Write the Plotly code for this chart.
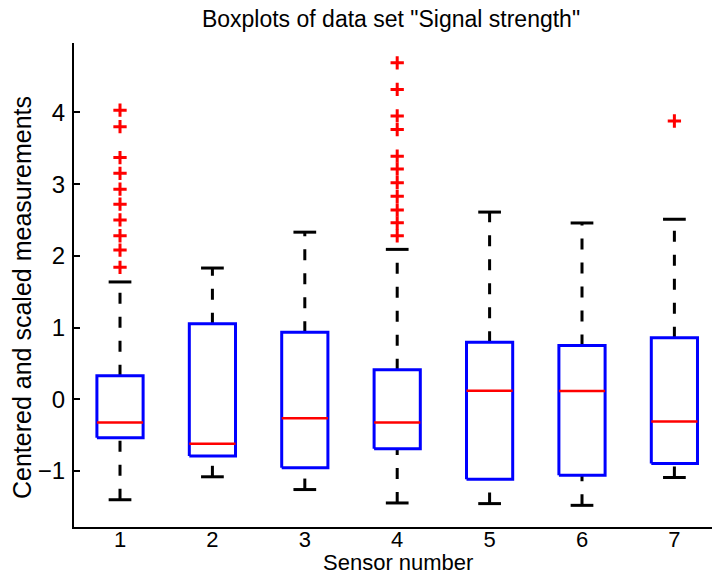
import plotly.graph_objects as go

# ---- data ----
sensors = [1, 2, 3, 4, 5, 6, 7]
tick_labels = ["1", "2", "3", "4", "5", "6", "7"]
y_ticks = [-1, 0, 1, 2, 3, 4]
y_tick_labels = ["\u22121", "0", "1", "2", "3", "4"]
q1 = [-0.535, -0.79, -0.955, -0.689, -1.113, -1.057, -0.894]
median = [-0.325, -0.62, -0.264, -0.325, 0.119, 0.115, -0.31]
q3 = [0.33, 1.053, 0.936, 0.413, 0.796, 0.749, 0.857]
lower_whisker = [-1.40, -1.08, -1.258, -1.445, -1.454, -1.478, -1.09]
upper_whisker = [1.636, 1.83, 2.33, 2.09, 2.61, 2.458, 2.51]
outliers = {
    1: [4.03, 3.80, 3.37, 3.15, 2.93, 2.72, 2.50, 2.28, 2.08, 1.84],
    4: [4.69, 4.32, 3.95, 3.76, 3.39, 3.21, 3.02, 2.83, 2.64, 2.46, 2.28],
    7: [3.88],
}

BOX_HALF = 0.25
CAP_HALF = 0.123
FONT = "Liberation Sans, Arial, Helvetica, sans-serif"

fig = go.Figure()

# whiskers (dashed), drawn from low to high like MATLAB
wx, wy = [], []
for s, lo, a, b, hi in zip(sensors, lower_whisker, q1, q3, upper_whisker):
    wx += [s, s, None, s, s, None]
    wy += [lo, a, None, b, hi, None]
fig.add_trace(go.Scatter(x=wx, y=wy, mode="lines",
                         line=dict(color="black", width=3, dash="11px,13px"),
                         hoverinfo="skip"))

# caps
cx, cy = [], []
for s, lo, hi in zip(sensors, lower_whisker, upper_whisker):
    cx += [s - CAP_HALF, s + CAP_HALF, None, s - CAP_HALF, s + CAP_HALF, None]
    cy += [lo, lo, None, hi, hi, None]
fig.add_trace(go.Scatter(x=cx, y=cy, mode="lines",
                         line=dict(color="black", width=3), hoverinfo="skip"))

# boxes
bx, by = [], []
for s, a, b in zip(sensors, q1, q3):
    bx += [s - BOX_HALF, s + BOX_HALF, s + BOX_HALF, s - BOX_HALF, s - BOX_HALF, None]
    by += [a, a, b, b, a, None]
fig.add_trace(go.Scatter(x=bx, y=by, mode="lines",
                         line=dict(color="#0000ff", width=3), hoverinfo="skip"))

# medians
mx, my = [], []
for s, m in zip(sensors, median):
    mx += [s - BOX_HALF, s + BOX_HALF, None]
    my += [m, m, None]
fig.add_trace(go.Scatter(x=mx, y=my, mode="lines",
                         line=dict(color="#ff0000", width=2.5), hoverinfo="skip"))

# outliers
ox, oy = [], []
for s, vals in outliers.items():
    ox += [s] * len(vals)
    oy += vals
fig.add_trace(go.Scatter(x=ox, y=oy, mode="markers",
                         marker=dict(symbol="cross-thin", size=9.5,
                                     line=dict(color="#ff0000", width=3)),
                         hoverinfo="skip"))

PLOT_W = 712 - 74
PLOT_H = 527 - 43

fig.update_layout(
    width=712, height=576,
    margin=dict(l=74, r=0, t=43, b=49),
    paper_bgcolor="white", plot_bgcolor="white",
    showlegend=False,
    font=dict(family=FONT, size=22, color="black"),
    title=dict(text='Boxplots of data set "Signal strength"',
               x=391 / 712, xanchor="center",
               y=1 - 19 / 576, yanchor="middle", yref="container",
               font=dict(size=23)),
    annotations=[
        dict(text="Sensor number", xref="paper", yref="paper",
             x=(398 - 74) / PLOT_W, y=-(576 - 527) / PLOT_H,
             xanchor="center", yanchor="bottom", showarrow=False,
             borderpad=0, font=dict(size=22)),
        dict(text="Centered and scaled measurements", xref="paper", yref="paper",
             x=-(74 - 22) / PLOT_W, y=(527 - 298) / PLOT_H, textangle=-90,
             xanchor="center", yanchor="middle", showarrow=False,
             font=dict(size=25)),
    ],
)
fig.update_xaxes(
    range=[0.502, 7.407], tickmode="array", tickvals=sensors, ticktext=tick_labels,
    showgrid=False, zeroline=False, showline=True, linecolor="black", linewidth=2,
    ticks="", ticklabelstandoff=-8, tickfont=dict(size=22),
)
fig.update_yaxes(
    range=[-1.78, 4.967], tickmode="array", tickvals=y_ticks, ticktext=y_tick_labels,
    showgrid=False, zeroline=False, showline=True, linecolor="black", linewidth=2,
    ticks="inside", ticklen=6, tickwidth=2, tickcolor="black",
    ticklabelstandoff=2, tickfont=dict(size=24),
)

fig.write_html("out.html")
